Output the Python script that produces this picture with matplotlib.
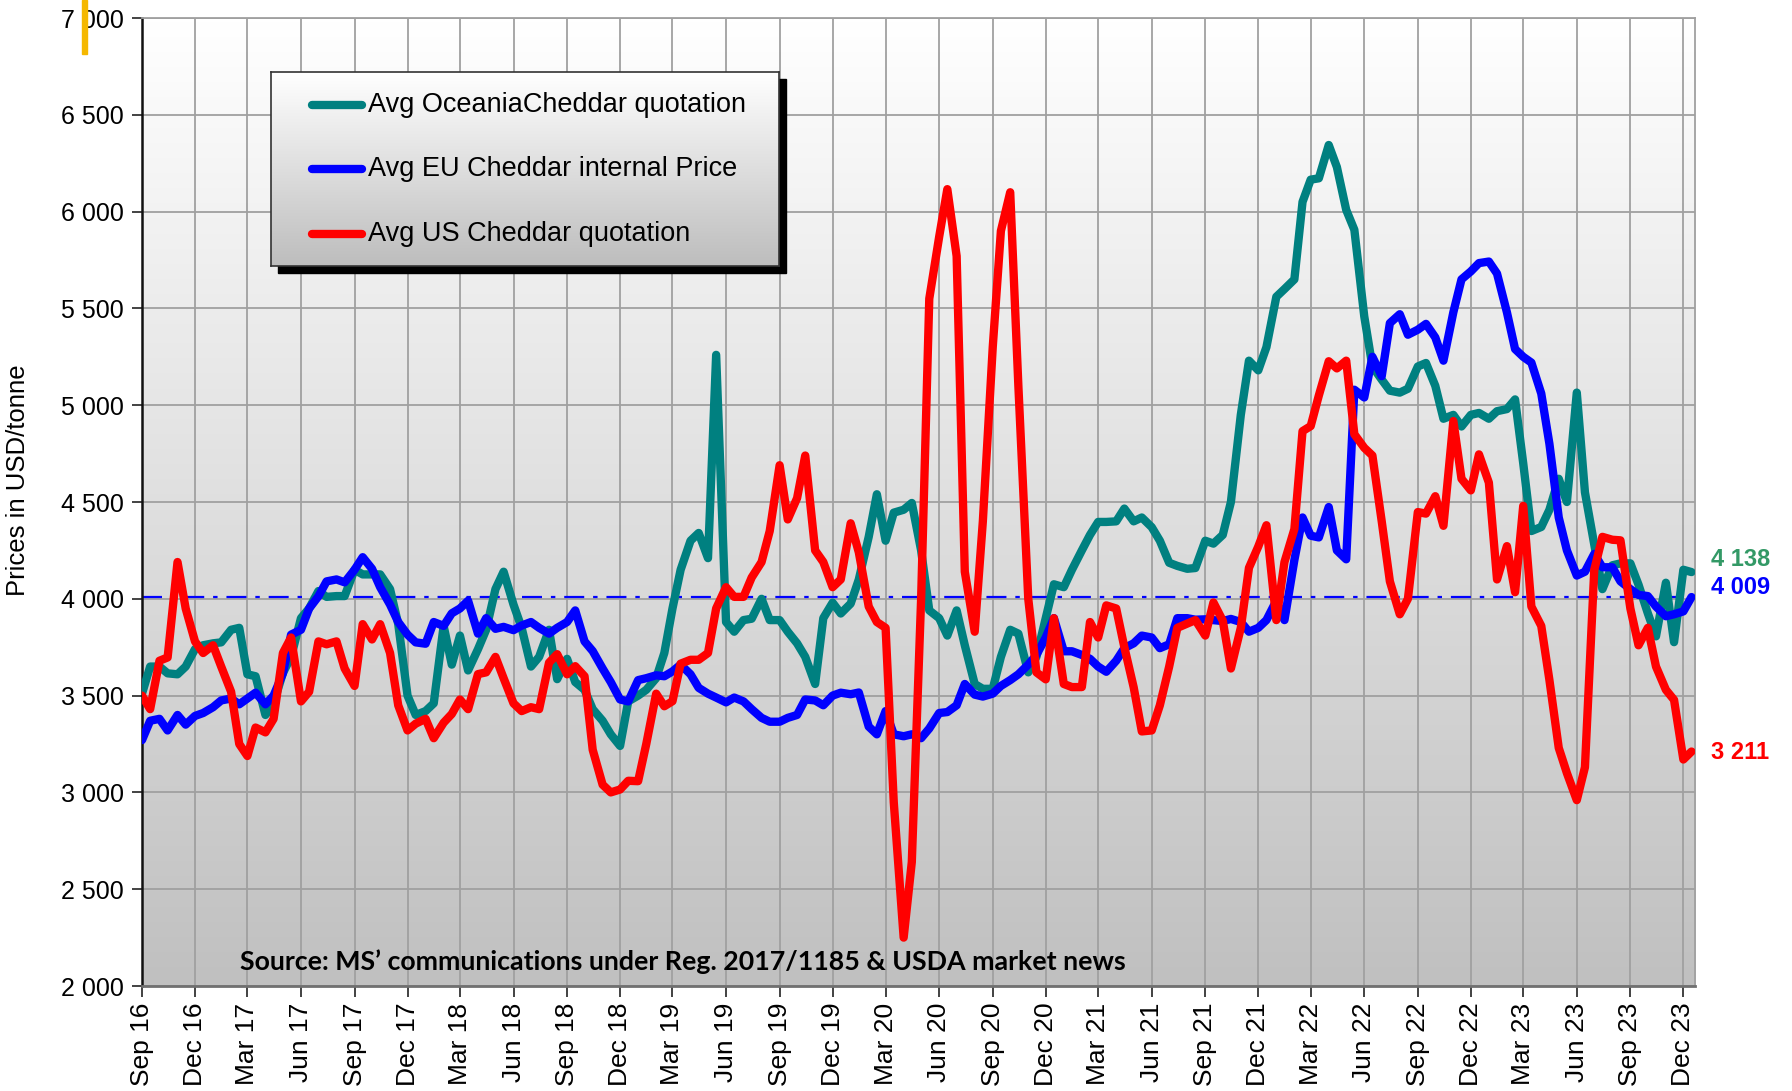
import numpy as np
import pandas as pd
import matplotlib
matplotlib.use("Agg")
import matplotlib.pyplot as plt
import matplotlib.dates as mdates
from matplotlib.colors import LinearSegmentedColormap
from matplotlib.patches import Rectangle
from matplotlib.ticker import FuncFormatter, MultipleLocator

plt.rcParams['font.family'] = ['Liberation Sans', 'DejaVu Sans']

series_names = ["Avg OceaniaCheddar quotation", "Avg EU Cheddar internal Price", "Avg US Cheddar quotation"]
series_colors = ["#008080", "#0000FF", "#FF0000"]
label_colors = ["#339966", "#0000FF", "#FF0000"]
y_title = "Prices in USD/tonne"
source_note = "Source: MS\u2019 communications under Reg. 2017/1185 & USDA market news"

# semi-monthly quotations, Sep 2016 -> Dec 2023 (USD/t)
oceania = [
    3510, 3650, 3650, 3615, 3610, 3650, 3740, 3760, 3770, 3775, 3840, 3850,
    3610, 3600, 3400, 3460, 3617, 3700, 3900, 3950, 4040, 4010, 4014, 4014,
    4150, 4126, 4126, 4126, 4050, 3870, 3500, 3400, 3420, 3460, 3860, 3660,
    3810, 3630, 3740, 3840, 4050, 4140, 3970, 3850, 3650, 3700, 3840, 3585,
    3690, 3570, 3530, 3430, 3370, 3300, 3240, 3470, 3500, 3530, 3590, 3720,
    3950, 4150, 4300, 4340, 4210, 5260, 3880, 3830, 3890, 3897, 4000, 3890,
    3890, 3830, 3770, 3700, 3560, 3900, 3980, 3924, 3975, 4100, 4320, 4540,
    4300, 4445, 4460, 4495, 4250, 3940, 3900, 3810, 3940, 3760, 3560, 3535,
    3535, 3700, 3840, 3820, 3620, 3700, 3900, 4075, 4060, 4150, 4250, 4330,
    4397, 4397, 4400, 4466, 4400, 4420, 4370, 4300, 4186, 4170, 4155, 4159,
    4300, 4285, 4330, 4500, 4950, 5230, 5180, 5300, 5560, 5600, 5650, 6050,
    6165, 6172, 6344, 6230, 6009, 5906, 5459, 5200, 5132, 5075, 5065, 5085,
    5200, 5218, 5100, 4930, 4950, 4890, 4950, 4960, 4930, 4969, 4980, 5030,
    4700, 4350, 4371, 4460, 4620, 4500, 5065, 4550, 4280, 4050, 4173, 4183,
    4183, 4073, 3925, 3806, 4083, 3776, 4150, 4138,
]
eu = [
    3270, 3370, 3380, 3320, 3400, 3350, 3395, 3410, 3440, 3475, 3485, 3455,
    3485, 3515, 3455, 3500, 3615, 3815, 3840, 3950, 4013, 4090, 4100, 4085,
    4150, 4215, 4155, 4060, 3970, 3880, 3815, 3775, 3768, 3880, 3860, 3925,
    3950, 3990, 3820, 3900, 3845, 3855, 3838, 3862, 3880, 3850, 3820, 3850,
    3880, 3940, 3780, 3730, 3640, 3570, 3480, 3470, 3580, 3590, 3605, 3600,
    3625, 3660, 3610, 3540, 3510, 3490, 3465, 3490, 3470, 3430, 3385, 3365,
    3365, 3385, 3400, 3480, 3475, 3450, 3500, 3515, 3507, 3516, 3340, 3300,
    3420, 3300, 3290, 3300, 3280, 3330, 3410, 3415, 3450, 3560, 3505, 3495,
    3510, 3550, 3580, 3610, 3660, 3710, 3800, 3900, 3729, 3729, 3710, 3690,
    3650, 3623, 3680, 3745, 3770, 3810, 3800, 3745, 3765, 3900, 3900, 3892,
    3894, 3890, 3885, 3896, 3880, 3830, 3850, 3890, 3990, 3890, 4200, 4420,
    4326, 4317, 4474, 4250, 4204, 5080, 5040, 5250, 5150, 5424, 5470, 5364,
    5390, 5420, 5350, 5230, 5480, 5650, 5691, 5734, 5742, 5680, 5480, 5290,
    5250, 5220, 5060, 4800, 4420, 4250, 4120, 4140, 4232, 4163, 4163, 4090,
    4050, 4020, 4014, 3960, 3910, 3920, 3935, 4009,
]
us = [
    3500, 3430, 3680, 3697, 4190, 3950, 3780, 3720, 3760, 3650, 3520, 3250,
    3188, 3335, 3310, 3380, 3720, 3800, 3470, 3520, 3780, 3765, 3780, 3640,
    3550, 3869, 3790, 3869, 3720, 3450, 3320, 3355, 3380, 3280, 3360, 3405,
    3480, 3430, 3611, 3620, 3700, 3590, 3460, 3420, 3440, 3430, 3670, 3714,
    3610, 3652, 3600, 3220, 3040, 3000, 3015, 3060, 3058, 3250, 3510, 3445,
    3471, 3665, 3685, 3685, 3720, 3950, 4060, 4010, 4010, 4110, 4190, 4350,
    4690, 4410, 4520, 4740, 4250, 4190, 4060, 4100, 4390, 4240, 3960, 3880,
    3850, 2950, 2250, 2640, 4000, 5550, 5870, 6116, 5770, 4140, 3830, 4400,
    5300, 5900, 6100, 5100, 4000, 3620, 3584, 3900, 3560, 3544, 3544, 3880,
    3800, 3966, 3950, 3750, 3543, 3315, 3320, 3450, 3650, 3850, 3872, 3890,
    3810, 3981, 3887, 3640, 3850, 4160, 4270, 4380, 3890, 4190, 4360, 4866,
    4892, 5050, 5227, 5190, 5230, 4850, 4780, 4740, 4400, 4090, 3920, 4000,
    4448, 4440, 4530, 4377, 4918, 4620, 4560, 4746, 4600, 4100, 4272, 4034,
    4480, 3960, 3860, 3580, 3230, 3100, 2960, 3130, 4150, 4320, 4305, 4302,
    3950, 3760, 3850, 3650, 3530, 3478, 3170, 3211,
]

series = [oceania, eu, us]
dates = pd.date_range("2016-09-01", periods=len(eu), freq="SMS")

W, H = 1792, 1091
fig = plt.figure(figsize=(W / 100, H / 100), dpi=100)
fig.patch.set_facecolor("white")

ax = fig.add_axes([142 / W, 1 - 986 / H, (1695 - 142) / W, (986 - 18) / H])

# grey gradient behind the plot
bg = LinearSegmentedColormap.from_list("bg", ["#c0c0c0", "#ffffff"])
ax.imshow(np.linspace(0, 1, 256).reshape(-1, 1), cmap=bg, aspect="auto",
          extent=(0, 1, 0, 1), transform=ax.transAxes, origin="lower", zorder=-1)

for vals, col in zip(series, series_colors):
    ax.plot(dates, vals, color=col, lw=6, solid_joinstyle="round",
            solid_capstyle="round", zorder=3)

ax.axhline(eu[-1], color="#0000FF", lw=1.6, ls=(0, (9, 4, 2, 4)), zorder=2)

ax.set_xlim(pd.Timestamp("2016-09-01"), pd.Timestamp("2023-12-21"))
ax.set_ylim(2000, 7000)
ax.yaxis.set_major_locator(MultipleLocator(500))
ax.yaxis.set_major_formatter(FuncFormatter(lambda v, p: f"{v:,.0f}".replace(",", " ")))
ax.xaxis.set_major_locator(mdates.MonthLocator(bymonth=(3, 6, 9, 12)))
ax.xaxis.set_major_formatter(mdates.DateFormatter("%b %y"))
ax.tick_params(axis="x", labelrotation=90, labelsize=19, length=8, width=1.2, color="#222222", pad=4)
ax.tick_params(axis="y", labelsize=18, length=7, width=1.2, color="#222222", pad=6)

ax.grid(True, color="#a0a0a0", lw=1.3)
ax.set_axisbelow(True)
for side in ["top", "right"]:
    ax.spines[side].set_color("#a0a0a0")
    ax.spines[side].set_linewidth(1.3)
ax.spines["left"].set_color("#111111")
ax.spines["left"].set_linewidth(1.8)
ax.spines["bottom"].set_color("#707070")
ax.spines["bottom"].set_linewidth(2)

ax.set_ylabel(y_title, fontsize=18.5)
ax.yaxis.set_label_coords(-0.072, 0.523)

# last values at right edge
offsets = [9, 7, -1]
for vals, col, dy in zip(series, label_colors, offsets):
    ax.annotate(f"{vals[-1]:,.0f}".replace(",", " "), xy=(dates[-1], vals[-1]),
                xytext=(14, dy), textcoords="offset points", color=col,
                fontsize=17, fontweight="bold", va="center", ha="left",
                annotation_clip=False)

ax.text(0.063, 0.025, source_note, transform=ax.transAxes, fontsize=19.3,
        fontweight="bold", family=["Lato", "DejaVu Sans"], va="center", ha="left", zorder=4)

# legend box with shadow and gradient
lx0, lx1, ly0, ly1 = 271, 779, 72, 266
fig.add_artist(Rectangle(((lx0 + 7) / W, 1 - (ly1 + 7) / H), (lx1 - lx0) / W, (ly1 - ly0) / H,
                         transform=fig.transFigure, color="black", zorder=4))
lax = fig.add_axes([lx0 / W, 1 - ly1 / H, (lx1 - lx0) / W, (ly1 - ly0) / H], zorder=5)
lbg = LinearSegmentedColormap.from_list("lbg", ["#bdbdbd", "#ffffff"])
lax.imshow(np.linspace(0, 1, 256).reshape(-1, 1), cmap=lbg, aspect="auto",
           extent=(0, 1, 0, 1), origin="lower")
lax.set_xlim(0, 1)
lax.set_ylim(0, 1)
lax.set_xticks([])
lax.set_yticks([])
for s in lax.spines.values():
    s.set_color("#333333")
    s.set_linewidth(1.2)
rows = [0.83, 0.50, 0.165]
for name, col, yy in zip(series_names, series_colors, rows):
    lax.plot([0.08, 0.18], [yy, yy], color=col, lw=6, solid_capstyle="round")
    lax.text(0.19, yy, name, fontsize=19.5, va="center", ha="left")

# small yellow marker top-left
fig.add_artist(Rectangle((82 / W, 1 - 54 / H), 5 / W, 54 / H, transform=fig.transFigure,
                         color="#F5B800", zorder=6))

fig.savefig("out.png", dpi=100)
